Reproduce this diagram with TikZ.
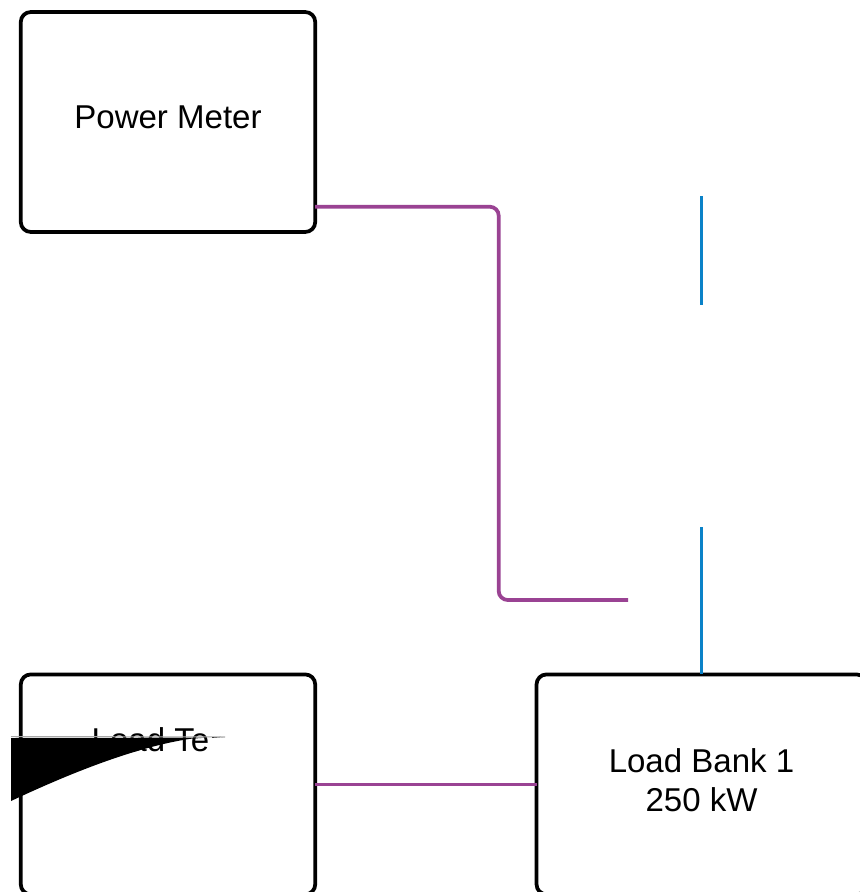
\documentclass[tikz,border=0pt]{standalone}
\usepackage{fontspec}
\setmainfont{Liberation Sans}
\usetikzlibrary{positioning, calc}
\definecolor{PurpleA}{HTML}{9A4393}
\definecolor{BlueA}{HTML}{0A82C8}
\definecolor{GrayA}{HTML}{A8A8A8}
\tikzset{
  box/.style={draw=black, line width=0.075cm, rounded corners=0.2cm, align=center,
              minimum width=5.89cm, minimum height=4.4cm, inner sep=0pt, outer sep=0pt},
  txt/.style={font=\fontsize{18.8pt}{22.5pt}\selectfont, align=center, inner sep=0pt},
  wire/.style={line width=0.075cm, rounded corners=0.18cm},
  pwire/.style={wire, draw=PurpleA},
  bwire/.style={wire, draw=BlueA},
}

\begin{document}
\begin{tikzpicture}[x=0.02cm, y=-0.02cm]
  \useasboundingbox (0,0) rectangle (859,892);

  \node[box] (meter) at (168,122) {};
  \node[box] (test) at (168,784.4) {};
  \node[box, minimum width=6.6cm] (bank) at (701.5,784.4) {};

  \node[txt] (meterlbl) at (168,117.5) {Power Meter};
  \node[txt] (testlbl) at (150.5,740) {Load Te};
  \node[txt] (banklbl) at (701.5,780) {Load Bank 1\\250 kW};

  \coordinate (bendA) at (498.7,206.7);
  \coordinate (bendB) at (498.7,600);
  \coordinate (pend) at (628,600);
  \coordinate (btopA) at (701.5,196);
  \coordinate (bbotA) at (701.5,305);
  \coordinate (btopB) at (701.5,527);

  \draw[pwire] (meter.east |- bendA) -- (bendA) -- (bendB) -- (pend);
  \draw[pwire] (test.east) -- (bank.west);
  \draw[bwire] (btopA) -- (bbotA);
  \draw[bwire] (btopB) -- (bank.north);

  % stray glyph left over in the picture
  \fill[black] (11,738) -- (11,801) .. controls (60,778) and (130,748) .. (190,738.8) -- (207,737.6) -- cycle;
  \fill[black] (212,737.9) -- (225,736.8) -- (212,737.2) -- cycle;
  \draw[GrayA, line width=0.02cm] (11,736.5) -- (225,737);
\end{tikzpicture}
\end{document}
